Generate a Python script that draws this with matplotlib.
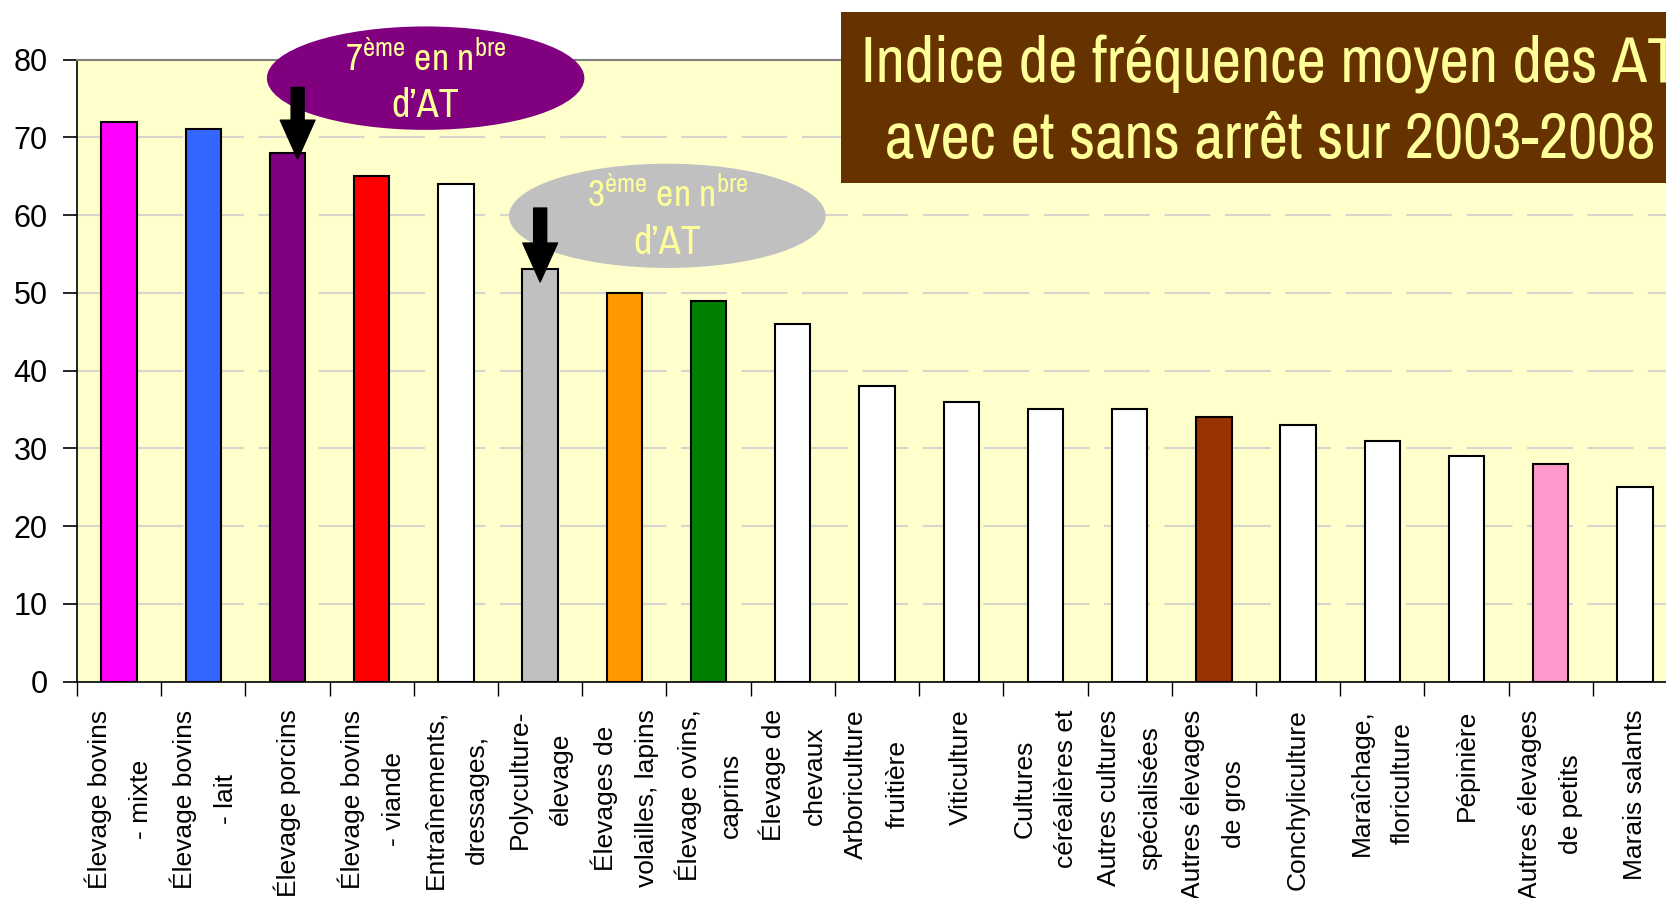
import matplotlib
matplotlib.use('Agg')
import matplotlib.pyplot as plt
from matplotlib import font_manager
from matplotlib.patches import Ellipse, Rectangle

# data
categories = [
    'Élevage bovins\n- mixte', 'Élevage bovins\n- lait', 'Élevage porcins',
    'Élevage bovins\n- viande', 'Entraînements,\ndressages,', 'Polyculture-\nélevage',
    'Élevages de\nvolailles, lapins', 'Élevage ovins,\ncaprins', 'Élevage de\nchevaux',
    'Arboriculture\nfruitière', 'Viticulture', 'Cultures\ncéréalières et',
    'Autres cultures\nspécialisées', 'Autres élevages\nde gros', 'Conchyliculture',
    'Maraîchage,\nfloriculture', 'Pépinière', 'Autres élevages\nde petits', 'Marais salants',
]
values = [72, 71, 68, 65, 64, 53, 50, 49, 46, 38, 36, 35, 35, 34, 33, 31, 29, 28, 25]
bar_colors = ['#FF00FF', '#3366FF', '#800080', '#FF0000', '#FFFFFF', '#C0C0C0',
              '#FF9900', '#008000', '#FFFFFF', '#FFFFFF', '#FFFFFF', '#FFFFFF',
              '#FFFFFF', '#993300', '#FFFFFF', '#FFFFFF', '#FFFFFF', '#FF99CC', '#FFFFFF']
yticks = [0, 10, 20, 30, 40, 50, 60, 70, 80]
title_lines = ['Indice de fréquence moyen des AT', 'avec et sans arrêt sur 2003-2008']

# narrow font like Arial Narrow, whichever is installed
available = {f.name for f in font_manager.fontManager.ttflist}
narrow = next((n for n in ['Archivo Narrow', 'Pragati Narrow', 'Roboto Condensed', 'PT Sans Narrow']
               if n in available), 'DejaVu Sans')

plt.rcParams['font.family'] = ['Liberation Sans', 'DejaVu Sans']
plt.rcParams['mathtext.fontset'] = 'custom'
plt.rcParams['mathtext.rm'] = narrow

W, H = 1666, 898
fig = plt.figure(figsize=(W / 100, H / 100), dpi=100)
ax = fig.add_axes([77 / W, 1 - 681.7 / H, 1600 / W, 622.2 / H])
ax.set_facecolor('#FFFFCC')

x = list(range(len(values)))
ax.bar(x, values, width=0.42, color=bar_colors, edgecolor='black', linewidth=1.5, zorder=3)

ax.set_xlim(-0.5, len(values) - 0.5)
ax.set_ylim(0, 80)
ax.set_yticks(yticks)
ax.tick_params(axis='y', labelsize=22, length=10, width=1.2, pad=11)

ax.set_xticks(x)
ax.set_xticklabels(categories, rotation=90, fontsize=19, ha='center', va='top',
                   multialignment='center', linespacing=1.9)
ax.tick_params(axis='x', which='major', length=0, pad=20)
ax.set_xticks([i - 0.5 for i in range(len(values) + 1)], minor=True)
ax.tick_params(axis='x', which='minor', length=10, width=1.0, color='black')

for yv in yticks[1:-1]:
    ax.axhline(yv, color='#D6D6CE', linewidth=1.5, linestyle=(0, (22, 7)), zorder=1)

ax.spines['top'].set_color('#808080')
ax.spines['top'].set_linewidth(1.5)
ax.spines['right'].set_visible(False)
ax.spines['left'].set_linewidth(1.2)
ax.spines['bottom'].set_linewidth(1.2)

# callouts
ax.add_patch(Ellipse((3.64, 77.6), 3.77, 13.3, facecolor='#800080', edgecolor='none',
                     zorder=5, clip_on=False))
ax.add_patch(Ellipse((6.51, 59.9), 3.76, 13.4, facecolor='#C0C0C0', edgecolor='none',
                     zorder=5, clip_on=False))

txt = dict(family=narrow, fontsize=27, color='#FFFF99', ha='center', va='baseline',
           zorder=6, clip_on=False)
ax.text(3.64, 78.5, r'7$^{\mathrm{ème}}$ en n$^{\mathrm{bre}}$', **txt)
ax.text(6.51, 61.0, r'3$^{\mathrm{ème}}$ en n$^{\mathrm{bre}}$', **txt)
txt['fontsize'] = 29
ax.text(3.64, 72.6, 'd’AT', **txt)
ax.text(6.51, 55.0, 'd’AT', **txt)

arrow_style = 'simple,head_length=1.12,head_width=1.0,tail_width=0.375'
ax.annotate('', xy=(2.12, values[2] - 0.8), xytext=(2.12, 76.4),
            arrowprops=dict(arrowstyle=arrow_style, mutation_scale=25, color='black',
                            shrinkA=0, shrinkB=0), zorder=7, annotation_clip=False)
ax.annotate('', xy=(5.0, values[5] - 1.6), xytext=(5.0, 60.9),
            arrowprops=dict(arrowstyle=arrow_style, mutation_scale=25, color='black',
                            shrinkA=0, shrinkB=0), zorder=7, annotation_clip=False)

# title box
fig.patches.append(Rectangle((841 / W, 1 - 183 / H), 0.6, 171 / H,
                             transform=fig.transFigure, facecolor='#663300',
                             edgecolor='none', zorder=10))
t1 = fig.text(1270 / W, 1 - 83 / H, title_lines[0], family=narrow, fontsize=46,
              color='#FFFF99', ha='center', va='baseline', zorder=11)
t2 = fig.text(1270 / W, 1 - 158 / H, title_lines[1], family=narrow, fontsize=46,
              color='#FFFF99', ha='center', va='baseline', zorder=11)

# fit title size so the second line is ~771 px wide, as in the reference
renderer = fig.canvas.get_renderer()
w2 = t2.get_window_extent(renderer).width
size = 46 * 771 / w2
t1.set_fontsize(size)
t2.set_fontsize(size)

fig.savefig('out.png', dpi=100)
